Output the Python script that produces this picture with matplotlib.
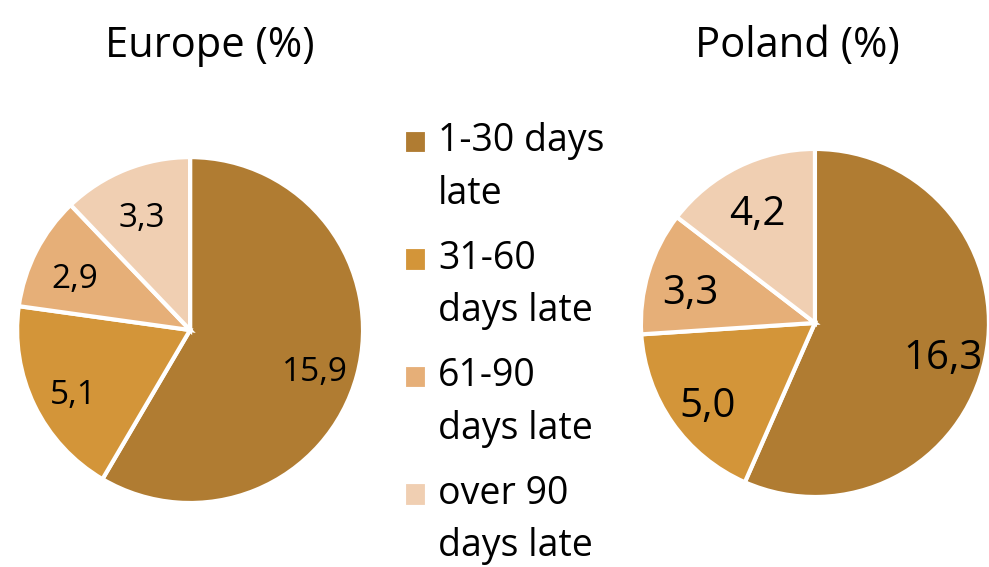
import matplotlib
matplotlib.use('Agg')
import matplotlib.pyplot as plt
from matplotlib.patches import Rectangle
from matplotlib.legend_handler import HandlerPatch

plt.rcParams['font.family'] = ['Open Sans', 'DejaVu Sans']

# Share of overdue payments by delay bucket
categories = ['1-30 days\nlate', '31-60\ndays late', '61-90\ndays late', 'over 90\ndays late']
europe = [15.9, 5.1, 2.9, 3.3]
poland = [16.3, 5.0, 3.3, 4.2]

colors = ['#B07C32', '#D39539', '#E6AF78', '#F0CFB2']


def fmt(v):
    return f'{v:.1f}'.replace('.', ',')


def draw_pie(ax, values, label_dist, fontsize):
    wedges, texts = ax.pie(
        values,
        labels=[fmt(v) for v in values],
        labeldistance=label_dist,
        colors=colors,
        startangle=90,
        counterclock=False,
        wedgeprops={'linewidth': 3, 'edgecolor': 'white'},
        textprops={'fontsize': fontsize, 'color': 'black'},
    )
    for t in texts:
        t.set_horizontalalignment('center')
        t.set_verticalalignment('center')
        # nudge the numbers down a little so they sit in the middle of the slice
        x, y = t.get_position()
        t.set_position((x, y - 0.05))
    ax.set_xlim(-1, 1)
    ax.set_ylim(-1, 1)
    ax.set_aspect('equal')
    return wedges


def first_line_square(legend, orig_handle, xdescent, ydescent, width, height, fontsize):
    # square lined up with the first line of a two-line label
    return Rectangle((-xdescent, -ydescent + 0.72 * fontsize), width, height)


fig = plt.figure(figsize=(9.89, 5.67), dpi=100)
fig.patch.set_facecolor('white')

ax_eu = fig.add_axes([0.0172, 0.1129, 0.350, 0.610])
ax_pl = fig.add_axes([0.648, 0.1235, 0.352, 0.6138])

wedges = draw_pie(ax_eu, europe, 0.75, 24)
draw_pie(ax_pl, poland, 0.75, 29)

fig.text(0.212, 0.919, 'Europe (%)', ha='center', va='center', fontsize=30)
fig.text(0.806, 0.919, 'Poland (%)', ha='center', va='center', fontsize=30)

leg = fig.legend(
    wedges, categories,
    loc='upper left',
    bbox_to_anchor=(0.408, 0.784),
    frameon=False,
    fontsize=27,
    handlelength=0.62,
    handleheight=0.62,
    handletextpad=0.3,
    labelspacing=0.72,
    borderpad=0,
    borderaxespad=0,
    handler_map={w: HandlerPatch(patch_func=first_line_square) for w in wedges},
)
for t in leg.get_texts():
    t.set_linespacing(1.5)

fig.savefig('out.png', dpi=100, facecolor='white')
plt.close(fig)
